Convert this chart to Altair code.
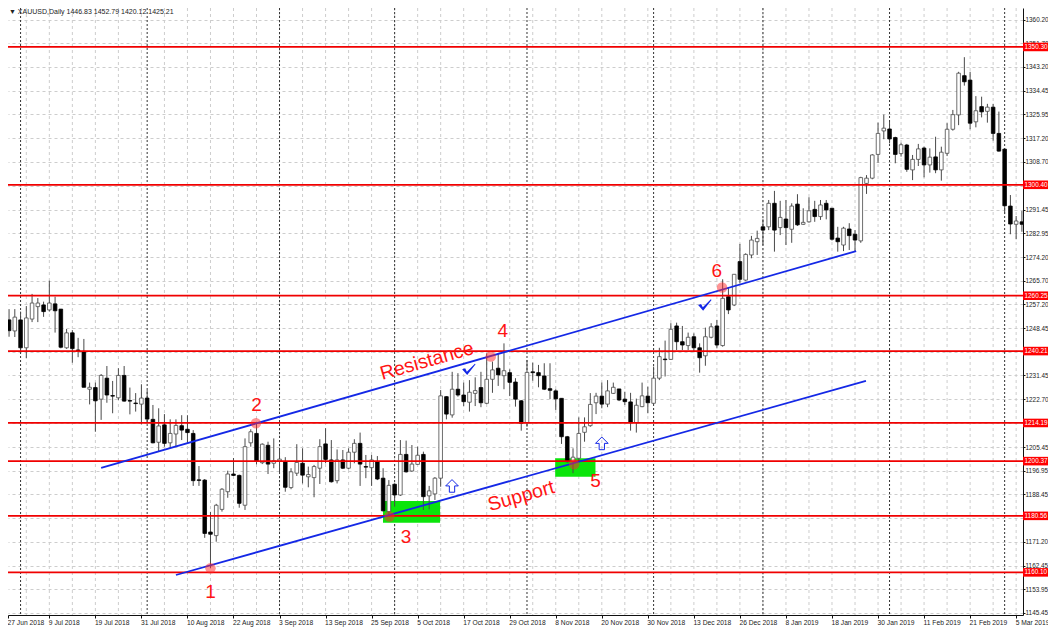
import altair as alt
import pandas as pd

# daily XAUUSD candles (bar index 0..177)
opens = [
    1258.4, 1251.5, 1247.5, 1251.5, 1241.4, 1251.8, 1256.3, 1256.9, 1255.1, 1257.3,
    1255.4, 1241.4, 1246.8, 1240.6, 1240.1, 1226.4, 1227.0, 1222.8, 1230.4, 1224.1,
    1223.3, 1231.4, 1222.3, 1221.4, 1221.0, 1223.2, 1215.5, 1207.2, 1213.5, 1207.0,
    1210.2, 1213.2, 1211.9, 1210.4, 1193.6, 1193.5, 1174.7, 1173.4, 1182.9, 1189.3,
    1195.7, 1195.2, 1184.4, 1207.0, 1210.4, 1199.8, 1206.1, 1199.6, 1200.4, 1200.2,
    1190.8, 1196.0, 1199.6, 1194.7, 1194.4, 1197.8, 1206.6, 1200.8, 1193.3, 1200.8,
    1197.8, 1203.6, 1206.8, 1198.4, 1198.0, 1200.2, 1194.2, 1182.1, 1192.0, 1188.1,
    1202.8, 1196.8, 1199.2, 1202.8, 1187.8, 1188.5, 1194.2, 1223.7, 1217.1, 1226.4,
    1224.3, 1221.7, 1224.9, 1227.0, 1221.3, 1230.0, 1234.0, 1231.3, 1232.4, 1229.0,
    1222.2, 1214.3, 1232.7, 1232.4, 1231.2, 1226.6, 1225.8, 1223.1, 1209.2, 1200.2,
    1201.4, 1210.8, 1213.2, 1221.5, 1223.9, 1221.0, 1224.9, 1226.5, 1222.8, 1221.8,
    1214.3, 1220.1, 1223.9, 1221.3, 1230.4, 1237.3, 1237.2, 1249.3, 1243.6, 1242.2,
    1245.4, 1241.4, 1238.5, 1245.2, 1249.3, 1242.2, 1259.9, 1256.9, 1272.6, 1265.9,
    1275.0, 1279.8, 1285.2, 1285.2, 1293.7, 1284.9, 1288.0, 1284.3, 1293.4, 1286.1,
    1287.0, 1291.5, 1288.9, 1293.7, 1291.9, 1281.1, 1278.6, 1284.4, 1282.5, 1280.1,
    1300.9, 1302.8, 1311.4, 1319.9, 1320.6, 1317.5, 1311.7, 1314.8, 1305.8, 1309.6,
    1313.7, 1307.6, 1310.5, 1305.8, 1311.8, 1320.5, 1325.7, 1339.9, 1338.3, 1323.2,
    1328.7, 1327.0, 1328.5, 1319.0, 1313.3, 1292.7, 1286.1, 1287.0,
]
closes = [
    1251.5, 1247.6, 1252.5, 1241.4, 1252.2, 1257.6, 1257.6, 1254.5, 1257.6, 1254.8,
    1241.6, 1246.8, 1241.1, 1240.4, 1227.1, 1227.1, 1222.2, 1231.4, 1224.3, 1223.9,
    1231.4, 1222.1, 1222.1, 1221.2, 1223.2, 1215.6, 1207.0, 1213.1, 1206.8, 1210.4,
    1213.3, 1211.6, 1210.7, 1193.3, 1193.4, 1174.2, 1173.9, 1184.4, 1190.2, 1195.7,
    1195.2, 1185.1, 1205.6, 1211.0, 1200.4, 1206.5, 1199.3, 1200.5, 1201.1, 1190.9,
    1196.5, 1199.9, 1195.3, 1195.5, 1198.4, 1205.6, 1201.0, 1192.9, 1200.8, 1197.8,
    1203.6, 1206.8, 1199.3, 1198.2, 1200.8, 1193.9, 1182.4, 1191.6, 1188.1, 1202.8,
    1196.5, 1199.3, 1202.5, 1187.5, 1189.6, 1194.2, 1224.0, 1217.4, 1226.4, 1224.3,
    1221.9, 1225.3, 1225.9, 1221.5, 1230.0, 1233.4, 1231.6, 1233.1, 1228.9, 1222.8,
    1214.1, 1232.5, 1232.4, 1231.3, 1226.4, 1226.0, 1222.9, 1209.2, 1200.2, 1201.8,
    1210.4, 1212.8, 1220.9, 1223.9, 1221.0, 1225.8, 1227.1, 1222.5, 1221.9, 1214.3,
    1220.6, 1224.0, 1221.5, 1230.4, 1238.2, 1237.1, 1248.1, 1243.6, 1242.4, 1245.2,
    1241.4, 1237.8, 1245.4, 1249.0, 1242.4, 1259.3, 1255.1, 1268.0, 1266.2, 1275.2,
    1280.4, 1281.0, 1284.0, 1293.7, 1284.0, 1288.6, 1284.9, 1292.7, 1285.9, 1286.8,
    1291.0, 1288.9, 1293.1, 1291.3, 1280.7, 1279.8, 1284.7, 1282.0, 1280.4, 1303.0,
    1302.8, 1311.2, 1319.0, 1320.9, 1317.0, 1311.4, 1314.9, 1306.0, 1309.6, 1313.4,
    1307.6, 1310.4, 1305.8, 1312.2, 1320.5, 1325.8, 1340.8, 1337.7, 1322.7, 1327.2,
    1326.8, 1328.5, 1319.0, 1312.6, 1292.8, 1286.2, 1287.3, 1286.1,
]
highs = [
    1259.4, 1255.4, 1255.4, 1254.5, 1256.5, 1260.9, 1259.4, 1258.1, 1265.7, 1259.9,
    1255.4, 1248.2, 1247.8, 1245.0, 1244.6, 1228.8, 1228.8, 1231.9, 1234.8, 1229.4,
    1234.0, 1234.8, 1227.0, 1225.0, 1228.2, 1226.1, 1220.7, 1219.5, 1217.4, 1215.5,
    1215.5, 1217.0, 1217.0, 1211.6, 1198.6, 1193.9, 1182.0, 1184.9, 1190.6, 1196.9,
    1201.5, 1195.5, 1208.6, 1211.9, 1214.6, 1206.8, 1207.4, 1208.6, 1204.4, 1201.8,
    1197.8, 1206.5, 1205.0, 1198.4, 1199.0, 1208.3, 1212.3, 1208.0, 1204.6, 1204.4,
    1205.0, 1208.3, 1210.7, 1202.6, 1202.6, 1202.2, 1197.8, 1193.5, 1192.3, 1208.0,
    1207.8, 1206.2, 1205.6, 1203.8, 1191.4, 1194.6, 1226.1, 1223.9, 1232.7, 1232.2,
    1228.8, 1229.7, 1230.7, 1232.7, 1239.4, 1236.4, 1239.5, 1243.0, 1233.6, 1230.4,
    1222.5, 1237.0, 1236.0, 1235.2, 1235.8, 1235.8, 1226.4, 1223.1, 1209.5, 1205.0,
    1216.2, 1216.2, 1225.0, 1225.1, 1228.8, 1229.7, 1228.8, 1226.5, 1225.5, 1225.1,
    1223.0, 1228.8, 1227.3, 1234.6, 1241.4, 1244.0, 1250.3, 1250.5, 1249.3, 1246.9,
    1246.6, 1243.0, 1248.7, 1250.3, 1251.5, 1266.2, 1263.4, 1268.0, 1279.0, 1275.6,
    1281.9, 1283.8, 1287.9, 1294.9, 1298.2, 1294.6, 1294.9, 1293.7, 1297.0, 1291.9,
    1295.9, 1294.6, 1294.9, 1294.9, 1291.9, 1285.2, 1285.2, 1286.5, 1284.0, 1303.3,
    1303.9, 1311.5, 1322.9, 1325.8, 1323.2, 1317.8, 1315.6, 1315.2, 1311.2, 1315.2,
    1314.2, 1313.6, 1317.8, 1314.2, 1322.7, 1327.5, 1341.3, 1346.6, 1341.3, 1332.5,
    1332.3, 1329.7, 1329.7, 1326.9, 1313.6, 1296.7, 1289.1, 1290.9,
]
lows = [
    1250.4, 1245.4, 1245.3, 1239.5, 1237.7, 1250.7, 1250.7, 1252.6, 1254.5, 1246.9,
    1241.2, 1241.0, 1236.0, 1238.0, 1227.1, 1220.9, 1211.0, 1215.3, 1221.5, 1217.7,
    1222.5, 1221.9, 1217.3, 1218.3, 1213.7, 1214.6, 1206.8, 1203.8, 1205.6, 1205.1,
    1205.6, 1208.0, 1206.9, 1191.4, 1191.4, 1172.6, 1161.7, 1171.2, 1182.1, 1187.1,
    1195.0, 1183.5, 1182.7, 1205.6, 1199.2, 1199.3, 1195.7, 1197.8, 1195.7, 1189.3,
    1190.2, 1195.0, 1192.3, 1190.9, 1187.3, 1192.1, 1199.6, 1192.6, 1192.3, 1197.5,
    1197.4, 1199.6, 1191.4, 1194.2, 1191.4, 1193.5, 1182.1, 1180.5, 1183.9, 1187.8,
    1196.2, 1196.5, 1199.0, 1182.7, 1182.9, 1186.3, 1191.1, 1215.5, 1216.1, 1223.7,
    1220.3, 1218.3, 1220.3, 1219.9, 1221.0, 1225.1, 1227.6, 1226.4, 1223.9, 1220.1,
    1211.4, 1212.8, 1229.5, 1227.1, 1226.1, 1222.8, 1218.9, 1206.6, 1199.8, 1196.0,
    1200.2, 1207.4, 1212.8, 1217.4, 1219.5, 1219.9, 1224.7, 1222.1, 1220.7, 1211.4,
    1210.7, 1219.9, 1217.7, 1221.0, 1229.7, 1231.0, 1237.0, 1240.6, 1240.6, 1240.6,
    1240.0, 1232.4, 1234.9, 1244.8, 1241.2, 1241.8, 1253.6, 1256.5, 1264.7, 1265.6,
    1273.8, 1275.0, 1278.5, 1284.0, 1276.2, 1282.2, 1278.6, 1279.4, 1285.5, 1285.9,
    1286.7, 1287.0, 1287.7, 1287.9, 1280.2, 1276.2, 1276.4, 1276.8, 1276.4, 1279.4,
    1297.1, 1302.4, 1308.4, 1316.9, 1315.4, 1308.2, 1310.6, 1305.1, 1302.1, 1307.2,
    1303.1, 1304.8, 1304.6, 1301.9, 1310.8, 1320.0, 1322.0, 1336.3, 1320.5, 1321.2,
    1324.8, 1322.9, 1316.4, 1312.4, 1289.8, 1282.5, 1280.7, 1283.4,
]

date_labels = [
    "27 Jun 2018", "9 Jul 2018", "19 Jul 2018", "31 Jul 2018", "10 Aug 2018", "22 Aug 2018",
    "3 Sep 2018", "13 Sep 2018", "25 Sep 2018", "5 Oct 2018", "17 Oct 2018", "29 Oct 2018",
    "8 Nov 2018", "20 Nov 2018", "30 Nov 2018", "13 Dec 2018", "26 Dec 2018", "8 Jan 2019",
    "18 Jan 2019", "30 Jan 2019", "11 Feb 2019", "21 Feb 2019", "5 Mar 2019",
]
date_ticks = [0.82, 8, 16, 24, 32, 40, 48, 56, 64, 72, 80, 88, 96, 104, 112, 120, 128, 136,
              144, 152, 160, 168, 176]
x_grid = [4, 8, 12, 16, 20, 24, 28, 32, 36, 40, 44, 48, 52, 56, 60, 64, 68, 72, 76, 80, 84, 88,
          92, 96, 100, 104, 108, 112, 116, 120, 124, 128, 132, 136, 140, 144, 148, 152, 156,
          160, 164, 168, 172, 176]
month_breaks = [3, 25, 48, 68, 91, 113, 132, 154, 174]

price_ticks = [1360.20, 1351.70, 1343.20, 1334.45, 1325.95, 1317.20, 1308.70, 1299.95, 1291.45,
               1282.95, 1274.20, 1265.70, 1257.20, 1248.45, 1239.95, 1231.45, 1222.70, 1214.20,
               1205.45, 1196.95, 1188.45, 1179.95, 1171.20, 1162.45, 1153.95, 1145.45]
levels = [1350.30, 1300.40, 1260.25, 1240.21, 1214.19, 1200.37, 1180.56, 1160.10]

touch_bar = [36, 43.9, 67.1, 84.7, 99.2, 124.9]
touch_price = [1161.6, 1214.1, 1180.3, 1238.2, 1199.2, 1263.2]

note_text = ["1", "2", "3", "4", "5", "6"]
note_bar = [36, 44, 70, 86.8, 102.9, 124]
note_price = [1153.1, 1220.7, 1173.0, 1247.5, 1193.2, 1269.3]

INK = "#4a4a4a"
RED = "#ff1414"
BLUE = "#1428e6"
FONT = "Liberation Sans"

x_scale = alt.Scale(domain=[0.817, 177.19], nice=False, zero=False, padding=0)
y_scale = alt.Scale(domain=[1144.67, 1364.40], nice=False, zero=False, padding=0)
# every layer gets the same axis objects, so the merged axes keep these settings
x_axis = alt.Axis(values=date_ticks,
                  labelExpr="[" + ",".join(f"'{d}'" for d in date_labels) + "][round(datum.value / 8)]",
                  grid=False, orient="bottom", tickSize=3, tickColor="#111",
                  domainColor="#111", labelAlign="left", labelOffset=-1,
                  labelPadding=1, labelFontSize=6.7, labelColor="#222",
                  labelFont=FONT, labelOverlap=False, labelBound=False,
                  labelFlush=False, labelAngle=0)
y_axis = alt.Axis(values=price_ticks, format=".2f", orient="right", grid=True,
                  gridColor="#cdcdcd", gridDash=[3, 3], gridWidth=1, tickSize=2,
                  tickColor="#111", domainColor="#111", labelPadding=0,
                  labelFontSize=6.4, labelColor="#222", labelFont=FONT,
                  labelOverlap=False, labelBound=False, labelFlush=False)
X = alt.X("bar:Q", scale=x_scale, title=None, axis=x_axis)
Y = alt.Y("price:Q", scale=y_scale, title=None, axis=y_axis)


def price_y(field):
    return alt.Y(field, scale=y_scale, title=None, axis=y_axis)


candles = pd.DataFrame({"bar": range(len(opens)), "open": opens, "close": closes,
                        "high": highs, "low": lows})

# ── grid ──────────────────────────────────────────────────────────────────────
v_grid = (
    alt.Chart(pd.DataFrame({"bar": x_grid}))
    .mark_rule(color="#cdcdcd", strokeDash=[3, 3], strokeWidth=1)
    .encode(x=X)
)
months = (
    alt.Chart(pd.DataFrame({"bar": month_breaks}))
    .mark_rule(color="#333", strokeDash=[2, 2], strokeWidth=1)
    .encode(x=X)
)

# ── green zones, behind the candles ───────────────────────────────────────────
zones = (
    alt.Chart(pd.DataFrame({"bar": [65.98, 95.9], "bar2": [75.9, 102.9],
                            "price": [1185.9, 1201.4], "price2": [1178.1, 1194.7]}))
    .mark_rect(color="#0be50b")
    .encode(x=X, x2="bar2:Q", y=Y, y2="price2:Q")
)

# ── candles ───────────────────────────────────────────────────────────────────
wicks = (
    alt.Chart(candles)
    .mark_rule(color=INK, strokeWidth=1, clip=True)
    .encode(x=X, y=price_y("low:Q"), y2="high:Q")
)
bodies = (
    alt.Chart(candles)
    .mark_bar(size=3.6, strokeWidth=0.8, clip=True)
    .encode(
        x=X,
        y=price_y("open:Q"),
        y2="close:Q",
        color=alt.condition("datum.open > datum.close", alt.value("#000000"), alt.value("#ffffff")),
        stroke=alt.condition("datum.open > datum.close", alt.value("#000000"), alt.value(INK)),
    )
)

# ── levels and price tags ─────────────────────────────────────────────────────
level_df = pd.DataFrame({"price": levels})
level_lines = alt.Chart(level_df).mark_rule(color="#f00000", strokeWidth=1.8).encode(y=Y)
tags = (
    alt.Chart(level_df)
    .transform_calculate(top="datum.price + 1.55", bottom="datum.price - 1.55")
    .mark_rect(color="#ff0000", clip=False)
    .encode(x=alt.value(1015), x2=alt.value(1040), y=price_y("top:Q"), y2="bottom:Q")
)
tag_text = (
    alt.Chart(level_df)
    .mark_text(color="#ffffff", align="left", baseline="middle", font=FONT, fontSize=6.4)
    .encode(x=alt.value(1016.5), y=Y, text=alt.Text("price:Q", format=".2f"))
)

# ── trend lines ───────────────────────────────────────────────────────────────
trends = (
    alt.Chart(pd.DataFrame({"bar": [17, 148.2, 30, 149.9],
                            "price": [1197.9, 1276.4, 1159.15, 1229.4],
                            "line": ["res", "res", "sup", "sup"]}))
    .mark_line(color=BLUE, strokeWidth=1.8)
    .encode(x=X, y=Y, detail="line:N")
)

# ── markers and notes ─────────────────────────────────────────────────────────
touches = (
    alt.Chart(pd.DataFrame({"bar": touch_bar, "price": touch_price}))
    .mark_circle(size=110, color="#ff2a2a", opacity=0.5)
    .encode(x=X, y=Y)
)
notes = (
    alt.Chart(pd.DataFrame({"bar": note_bar, "price": note_price, "note": note_text}))
    .mark_text(color=RED, font=FONT, fontSize=19)
    .encode(x=X, y=Y, text="note:N")
)
resistance = (
    alt.Chart(pd.DataFrame({"bar": [73.6], "price": [1236.6], "note": ["Resistance"]}))
    .mark_text(color=RED, font=FONT, fontSize=19.5, angle=344)
    .encode(x=X, y=Y, text="note:N")
)
support = (
    alt.Chart(pd.DataFrame({"bar": [90.0], "price": [1187.7], "note": ["Support"]}))
    .mark_text(color=RED, font=FONT, fontSize=19.5, angle=344)
    .encode(x=X, y=Y, text="note:N")
)
arrows = (
    alt.Chart(pd.DataFrame({"bar": [77.97, 104.0], "price": [1191.4, 1206.8]}))
    .mark_point(shape="M0,-1 L1,0 L0.42,0 L0.42,1 L-0.42,1 L-0.42,0 L-1,0 Z", size=160,
                filled=False, stroke=BLUE, strokeWidth=1, opacity=1)
    .encode(x=X, y=Y)
)
checks = (
    alt.Chart(pd.DataFrame({"bar": [80.9, 121.9], "price": [1233.6, 1256.9]}))
    .mark_point(shape="M-1,0 L-0.55,-0.15 L-0.3,0.35 L0.9,-0.85 L1,-0.75 L-0.25,0.85 Z", size=180,
                filled=True, color=BLUE, opacity=1)
    .encode(x=X, y=Y)
)
header = (
    alt.Chart(pd.DataFrame({"note": ["▼ XAUUSD,Daily  1446.83 1452.79 1420.12 1425.21"]}))
    .mark_text(color="#222", align="left", baseline="middle", font=FONT, fontSize=7)
    .encode(x=alt.value(1), y=alt.value(4), text="note:N")
)

chart = (
    alt.layer(v_grid, months, zones, wicks, bodies, level_lines, tags, tag_text, trends,
              touches, notes, resistance, support, arrows, checks, header)
    .properties(
        width=1015,
        height=607,
        padding={"left": 0, "top": 0, "right": 25, "bottom": 15},
        autosize=alt.AutoSizeParams(type="none"),
        background="#ffffff",
    )
    .configure_view(strokeWidth=0)
)

chart.save("out.html", embed_options={"renderer": "svg", "actions": False})
